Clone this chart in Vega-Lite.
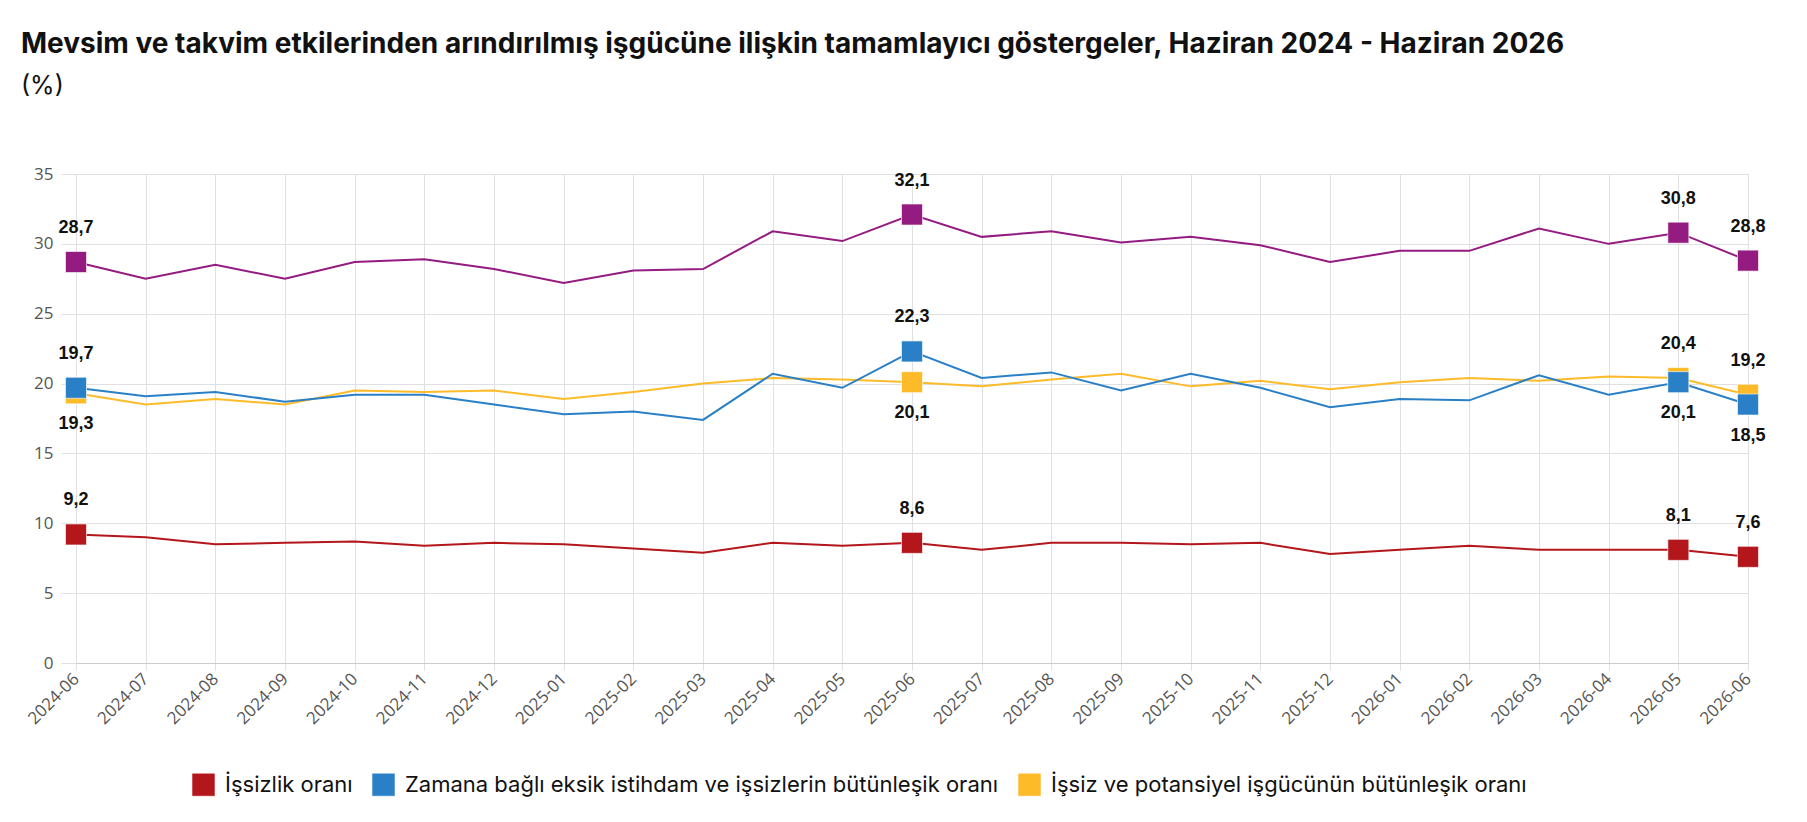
{
  "$schema": "https://vega.github.io/schema/vega-lite/v6.json",
  "width": 1672,
  "height": 489,
  "autosize": {"type": "none"},
  "padding": {"left": 76, "top": 174, "right": 59, "bottom": 159},
  "background": "white",
  "title": {
    "text": "Mevsim ve takvim etkilerinden arındırılmış işgücüne ilişkin tamamlayıcı göstergeler, Haziran 2024 - Haziran 2026",
    "subtitle": "(%)",
    "anchor": "start",
    "frame": "group",
    "dx": -55,
    "offset": 66,
    "font": "Inter",
    "fontSize": 28,
    "fontWeight": "bold",
    "color": "#111111",
    "subtitleFont": "Inter",
    "subtitleFontSize": 25,
    "subtitleColor": "#111111",
    "subtitlePadding": 15
  },
  "config": {
    "locale": {"number": {"decimal": ",", "thousands": ".", "grouping": [3], "currency": ["", " TL"]}},
    "view": {"stroke": null},
    "axis": {"gridColor": "#e0e0e4", "gridWidth": 1}
  },
  "data": {
    "values": [
      {"date": "2024-06", "series": "İşsizlik oranı", "value": 9.2},
      {"date": "2024-07", "series": "İşsizlik oranı", "value": 9.0},
      {"date": "2024-08", "series": "İşsizlik oranı", "value": 8.5},
      {"date": "2024-09", "series": "İşsizlik oranı", "value": 8.6},
      {"date": "2024-10", "series": "İşsizlik oranı", "value": 8.7},
      {"date": "2024-11", "series": "İşsizlik oranı", "value": 8.4},
      {"date": "2024-12", "series": "İşsizlik oranı", "value": 8.6},
      {"date": "2025-01", "series": "İşsizlik oranı", "value": 8.5},
      {"date": "2025-02", "series": "İşsizlik oranı", "value": 8.2},
      {"date": "2025-03", "series": "İşsizlik oranı", "value": 7.9},
      {"date": "2025-04", "series": "İşsizlik oranı", "value": 8.6},
      {"date": "2025-05", "series": "İşsizlik oranı", "value": 8.4},
      {"date": "2025-06", "series": "İşsizlik oranı", "value": 8.6},
      {"date": "2025-07", "series": "İşsizlik oranı", "value": 8.1},
      {"date": "2025-08", "series": "İşsizlik oranı", "value": 8.6},
      {"date": "2025-09", "series": "İşsizlik oranı", "value": 8.6},
      {"date": "2025-10", "series": "İşsizlik oranı", "value": 8.5},
      {"date": "2025-11", "series": "İşsizlik oranı", "value": 8.6},
      {"date": "2025-12", "series": "İşsizlik oranı", "value": 7.8},
      {"date": "2026-01", "series": "İşsizlik oranı", "value": 8.1},
      {"date": "2026-02", "series": "İşsizlik oranı", "value": 8.4},
      {"date": "2026-03", "series": "İşsizlik oranı", "value": 8.1},
      {"date": "2026-04", "series": "İşsizlik oranı", "value": 8.1},
      {"date": "2026-05", "series": "İşsizlik oranı", "value": 8.1},
      {"date": "2026-06", "series": "İşsizlik oranı", "value": 7.6},
      {"date": "2024-06", "series": "Atıl işgücü oranı", "value": 28.7},
      {"date": "2024-07", "series": "Atıl işgücü oranı", "value": 27.5},
      {"date": "2024-08", "series": "Atıl işgücü oranı", "value": 28.5},
      {"date": "2024-09", "series": "Atıl işgücü oranı", "value": 27.5},
      {"date": "2024-10", "series": "Atıl işgücü oranı", "value": 28.7},
      {"date": "2024-11", "series": "Atıl işgücü oranı", "value": 28.9},
      {"date": "2024-12", "series": "Atıl işgücü oranı", "value": 28.2},
      {"date": "2025-01", "series": "Atıl işgücü oranı", "value": 27.2},
      {"date": "2025-02", "series": "Atıl işgücü oranı", "value": 28.1},
      {"date": "2025-03", "series": "Atıl işgücü oranı", "value": 28.2},
      {"date": "2025-04", "series": "Atıl işgücü oranı", "value": 30.9},
      {"date": "2025-05", "series": "Atıl işgücü oranı", "value": 30.2},
      {"date": "2025-06", "series": "Atıl işgücü oranı", "value": 32.1},
      {"date": "2025-07", "series": "Atıl işgücü oranı", "value": 30.5},
      {"date": "2025-08", "series": "Atıl işgücü oranı", "value": 30.9},
      {"date": "2025-09", "series": "Atıl işgücü oranı", "value": 30.1},
      {"date": "2025-10", "series": "Atıl işgücü oranı", "value": 30.5},
      {"date": "2025-11", "series": "Atıl işgücü oranı", "value": 29.9},
      {"date": "2025-12", "series": "Atıl işgücü oranı", "value": 28.7},
      {"date": "2026-01", "series": "Atıl işgücü oranı", "value": 29.5},
      {"date": "2026-02", "series": "Atıl işgücü oranı", "value": 29.5},
      {"date": "2026-03", "series": "Atıl işgücü oranı", "value": 31.1},
      {"date": "2026-04", "series": "Atıl işgücü oranı", "value": 30.0},
      {"date": "2026-05", "series": "Atıl işgücü oranı", "value": 30.8},
      {"date": "2026-06", "series": "Atıl işgücü oranı", "value": 28.8},
      {"date": "2024-06", "series": "İşsiz ve potansiyel işgücünün bütünleşik oranı", "value": 19.3},
      {"date": "2024-07", "series": "İşsiz ve potansiyel işgücünün bütünleşik oranı", "value": 18.5},
      {"date": "2024-08", "series": "İşsiz ve potansiyel işgücünün bütünleşik oranı", "value": 18.9},
      {"date": "2024-09", "series": "İşsiz ve potansiyel işgücünün bütünleşik oranı", "value": 18.5},
      {"date": "2024-10", "series": "İşsiz ve potansiyel işgücünün bütünleşik oranı", "value": 19.5},
      {"date": "2024-11", "series": "İşsiz ve potansiyel işgücünün bütünleşik oranı", "value": 19.4},
      {"date": "2024-12", "series": "İşsiz ve potansiyel işgücünün bütünleşik oranı", "value": 19.5},
      {"date": "2025-01", "series": "İşsiz ve potansiyel işgücünün bütünleşik oranı", "value": 18.9},
      {"date": "2025-02", "series": "İşsiz ve potansiyel işgücünün bütünleşik oranı", "value": 19.4},
      {"date": "2025-03", "series": "İşsiz ve potansiyel işgücünün bütünleşik oranı", "value": 20.0},
      {"date": "2025-04", "series": "İşsiz ve potansiyel işgücünün bütünleşik oranı", "value": 20.4},
      {"date": "2025-05", "series": "İşsiz ve potansiyel işgücünün bütünleşik oranı", "value": 20.3},
      {"date": "2025-06", "series": "İşsiz ve potansiyel işgücünün bütünleşik oranı", "value": 20.1},
      {"date": "2025-07", "series": "İşsiz ve potansiyel işgücünün bütünleşik oranı", "value": 19.8},
      {"date": "2025-08", "series": "İşsiz ve potansiyel işgücünün bütünleşik oranı", "value": 20.3},
      {"date": "2025-09", "series": "İşsiz ve potansiyel işgücünün bütünleşik oranı", "value": 20.7},
      {"date": "2025-10", "series": "İşsiz ve potansiyel işgücünün bütünleşik oranı", "value": 19.8},
      {"date": "2025-11", "series": "İşsiz ve potansiyel işgücünün bütünleşik oranı", "value": 20.2},
      {"date": "2025-12", "series": "İşsiz ve potansiyel işgücünün bütünleşik oranı", "value": 19.6},
      {"date": "2026-01", "series": "İşsiz ve potansiyel işgücünün bütünleşik oranı", "value": 20.1},
      {"date": "2026-02", "series": "İşsiz ve potansiyel işgücünün bütünleşik oranı", "value": 20.4},
      {"date": "2026-03", "series": "İşsiz ve potansiyel işgücünün bütünleşik oranı", "value": 20.2},
      {"date": "2026-04", "series": "İşsiz ve potansiyel işgücünün bütünleşik oranı", "value": 20.5},
      {"date": "2026-05", "series": "İşsiz ve potansiyel işgücünün bütünleşik oranı", "value": 20.4},
      {"date": "2026-06", "series": "İşsiz ve potansiyel işgücünün bütünleşik oranı", "value": 19.2},
      {"date": "2024-06", "series": "Zamana bağlı eksik istihdam ve işsizlerin bütünleşik oranı", "value": 19.7},
      {"date": "2024-07", "series": "Zamana bağlı eksik istihdam ve işsizlerin bütünleşik oranı", "value": 19.1},
      {"date": "2024-08", "series": "Zamana bağlı eksik istihdam ve işsizlerin bütünleşik oranı", "value": 19.4},
      {"date": "2024-09", "series": "Zamana bağlı eksik istihdam ve işsizlerin bütünleşik oranı", "value": 18.7},
      {"date": "2024-10", "series": "Zamana bağlı eksik istihdam ve işsizlerin bütünleşik oranı", "value": 19.2},
      {"date": "2024-11", "series": "Zamana bağlı eksik istihdam ve işsizlerin bütünleşik oranı", "value": 19.2},
      {"date": "2024-12", "series": "Zamana bağlı eksik istihdam ve işsizlerin bütünleşik oranı", "value": 18.5},
      {"date": "2025-01", "series": "Zamana bağlı eksik istihdam ve işsizlerin bütünleşik oranı", "value": 17.8},
      {"date": "2025-02", "series": "Zamana bağlı eksik istihdam ve işsizlerin bütünleşik oranı", "value": 18.0},
      {"date": "2025-03", "series": "Zamana bağlı eksik istihdam ve işsizlerin bütünleşik oranı", "value": 17.4},
      {"date": "2025-04", "series": "Zamana bağlı eksik istihdam ve işsizlerin bütünleşik oranı", "value": 20.7},
      {"date": "2025-05", "series": "Zamana bağlı eksik istihdam ve işsizlerin bütünleşik oranı", "value": 19.7},
      {"date": "2025-06", "series": "Zamana bağlı eksik istihdam ve işsizlerin bütünleşik oranı", "value": 22.3},
      {"date": "2025-07", "series": "Zamana bağlı eksik istihdam ve işsizlerin bütünleşik oranı", "value": 20.4},
      {"date": "2025-08", "series": "Zamana bağlı eksik istihdam ve işsizlerin bütünleşik oranı", "value": 20.8},
      {"date": "2025-09", "series": "Zamana bağlı eksik istihdam ve işsizlerin bütünleşik oranı", "value": 19.5},
      {"date": "2025-10", "series": "Zamana bağlı eksik istihdam ve işsizlerin bütünleşik oranı", "value": 20.7},
      {"date": "2025-11", "series": "Zamana bağlı eksik istihdam ve işsizlerin bütünleşik oranı", "value": 19.7},
      {"date": "2025-12", "series": "Zamana bağlı eksik istihdam ve işsizlerin bütünleşik oranı", "value": 18.3},
      {"date": "2026-01", "series": "Zamana bağlı eksik istihdam ve işsizlerin bütünleşik oranı", "value": 18.9},
      {"date": "2026-02", "series": "Zamana bağlı eksik istihdam ve işsizlerin bütünleşik oranı", "value": 18.8},
      {"date": "2026-03", "series": "Zamana bağlı eksik istihdam ve işsizlerin bütünleşik oranı", "value": 20.6},
      {"date": "2026-04", "series": "Zamana bağlı eksik istihdam ve işsizlerin bütünleşik oranı", "value": 19.2},
      {"date": "2026-05", "series": "Zamana bağlı eksik istihdam ve işsizlerin bütünleşik oranı", "value": 20.1},
      {"date": "2026-06", "series": "Zamana bağlı eksik istihdam ve işsizlerin bütünleşik oranı", "value": 18.5}
    ]
  },
  "encoding": {
    "x": {
      "field": "date",
      "type": "ordinal",
      "sort": null,
      "scale": {"type": "point", "padding": 0},
      "axis": {
        "title": null,
        "labelAngle": -45,
        "labelAlign": "right",
        "labelBaseline": "middle",
        "labelFont": "Open Sans",
        "labelFontSize": 17,
        "labelColor": "#555555",
        "labelPadding": 6,
        "tickSize": 7,
        "tickColor": "#e0e0e4",
        "domainColor": "#cccccc",
        "grid": true
      }
    },
    "y": {
      "field": "value",
      "type": "quantitative",
      "scale": {"domain": [0, 35], "nice": false},
      "axis": {
        "title": null,
        "values": [0, 5, 10, 15, 20, 25, 30, 35],
        "labelFont": "Open Sans",
        "labelFontSize": 17,
        "labelColor": "#555555",
        "labelPadding": 8,
        "tickSize": 15,
        "tickColor": "#e0e0e4",
        "domain": false,
        "grid": true
      }
    },
    "color": {
      "field": "series",
      "type": "nominal",
      "scale": {
        "domain": ["İşsizlik oranı", "Zamana bağlı eksik istihdam ve işsizlerin bütünleşik oranı", "İşsiz ve potansiyel işgücünün bütünleşik oranı", "Atıl işgücü oranı"],
        "range": ["#B3161B", "#2A80C6", "#FDBB2A", "#941B80"]
      },
      "legend": {
        "title": null,
        "orient": "none",
        "legendX": 116,
        "legendY": 599,
        "direction": "horizontal",
        "values": ["İşsizlik oranı", "Zamana bağlı eksik istihdam ve işsizlerin bütünleşik oranı", "İşsiz ve potansiyel işgücünün bütünleşik oranı"],
        "symbolType": "square",
        "symbolSize": 480,
        "symbolOpacity": 1,
        "labelFont": "Inter",
        "labelFontSize": 22,
        "labelColor": "#111111",
        "labelLimit": 900,
        "labelOffset": 10,
        "columnPadding": 17,
        "encode": {
          "symbols": {
            "update": {
              "fill": {"scale": "color", "field": "value"},
              "stroke": {"value": "#ffffff"},
              "strokeWidth": {"value": 1},
              "strokeOpacity": {"value": 0.5},
              "opacity": {"value": 1}
            }
          }
        }
      }
    }
  },
  "layer": [
    {
      "mark": {"type": "line", "strokeWidth": 2},
      "encoding": {}
    },
    {
      "transform": [{"filter": {"field": "date", "oneOf": ["2024-06", "2025-06", "2026-05", "2026-06"]}}],
      "mark": {"type": "point", "shape": "square", "size": 441, "filled": true, "opacity": 1, "stroke": "#ffffff", "strokeWidth": 1, "strokeOpacity": 0.6},
      "encoding": {}
    },
    {
      "transform": [
        {"filter": {"field": "date", "oneOf": ["2024-06", "2025-06", "2026-05", "2026-06"]}},
        {"filter": "!((datum.series === 'İşsiz ve potansiyel işgücünün bütünleşik oranı' && (datum.date === '2024-06' || datum.date === '2025-06')) || (datum.series === 'Zamana bağlı eksik istihdam ve işsizlerin bütünleşik oranı' && (datum.date === '2026-05' || datum.date === '2026-06')))"}
      ],
      "mark": {"type": "text", "dy": -34, "font": "Liberation Sans", "fontSize": 18, "fontWeight": "bold"},
      "encoding": {"text": {"field": "value", "type": "quantitative", "format": ".1f"}, "color": {"value": "#111111"}}
    },
    {
      "transform": [
        {"filter": {"field": "date", "oneOf": ["2024-06", "2025-06", "2026-05", "2026-06"]}},
        {"filter": "(datum.series === 'İşsiz ve potansiyel işgücünün bütünleşik oranı' && (datum.date === '2024-06' || datum.date === '2025-06')) || (datum.series === 'Zamana bağlı eksik istihdam ve işsizlerin bütünleşik oranı' && (datum.date === '2026-05' || datum.date === '2026-06'))"}
      ],
      "mark": {"type": "text", "dy": 31, "font": "Liberation Sans", "fontSize": 18, "fontWeight": "bold"},
      "encoding": {"text": {"field": "value", "type": "quantitative", "format": ".1f"}, "color": {"value": "#111111"}}
    }
  ]
}
